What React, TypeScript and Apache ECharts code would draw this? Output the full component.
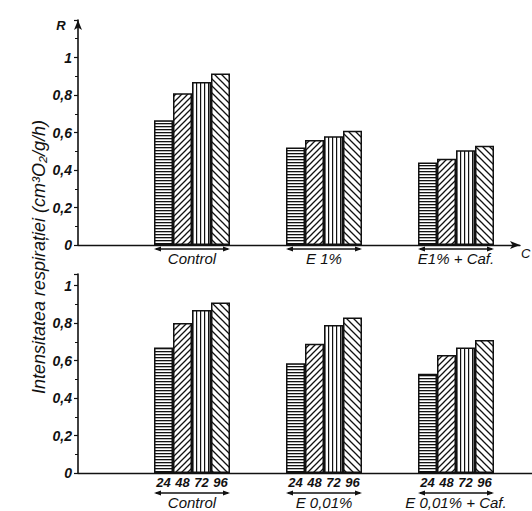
import React, { useEffect, useRef } from 'react';
import * as echarts from 'echarts';

const hours = ['24', '48', '72', '96'];
const topCategories = ['Control', 'E 1%', 'E1% + Caf.'];
const bottomCategories = ['Control', 'E 0,01%', 'E 0,01% + Caf.'];
// values per hour series, one entry per category
const top24 = [0.665, 0.52, 0.44];
const top48 = [0.81, 0.56, 0.46];
const top72 = [0.87, 0.58, 0.505];
const top96 = [0.915, 0.61, 0.53];
const bottom24 = [0.67, 0.585, 0.53];
const bottom48 = [0.8, 0.69, 0.63];
const bottom72 = [0.87, 0.79, 0.67];
const bottom96 = [0.91, 0.83, 0.71];
const yTickValues = [0, 0.2, 0.4, 0.6, 0.8, 1];
const yTitle = 'Intensitatea respirației (cm³O₂/g/h)';
const topAxisName = 'R';
const rightAxisName = 'C';

const topValues = [top24, top48, top72, top96];
const bottomValues = [bottom24, bottom48, bottom72, bottom96];

const INK = '#111';
const FONT = '"Liberation Sans", Arial, sans-serif';
const BAR_W = 19;

function makeTile(kind: string) {
  const c = document.createElement('canvas');
  let w = 6;
  let h = 6;
  if (kind === 'h') { w = 4; h = 3; }
  if (kind === 'v') { w = 4; h = 4; }
  if (kind === 'd2') { w = 7; h = 7; }
  c.width = w;
  c.height = h;
  const ctx = c.getContext('2d')!;
  ctx.fillStyle = '#fff';
  ctx.fillRect(0, 0, w, h);
  ctx.fillStyle = INK;
  ctx.strokeStyle = INK;
  ctx.lineWidth = 1.3;
  if (kind === 'h') {
    ctx.fillRect(0, 0, w, 1.3);
  } else if (kind === 'v') {
    ctx.fillRect(0, 0, 1.2, h);
  } else if (kind === 'd1') {
    ctx.beginPath();
    ctx.moveTo(-1, h + 1); ctx.lineTo(w + 1, -1);
    ctx.moveTo(-1, 1); ctx.lineTo(1, -1);
    ctx.moveTo(w - 1, h + 1); ctx.lineTo(w + 1, h - 1);
    ctx.stroke();
  } else {
    ctx.beginPath();
    ctx.moveTo(-1, -1); ctx.lineTo(w + 1, h + 1);
    ctx.moveTo(w - 1, -1); ctx.lineTo(w + 1, 1);
    ctx.moveTo(-1, h - 1); ctx.lineTo(1, h + 1);
    ctx.stroke();
  }
  return { image: c, repeat: 'repeat', imageWidth: w, imageHeight: h } as any;
}

const isTick = (v: number) =>
  yTickValues.some((t) => Math.abs(t - v) < 1e-6);
const fmtTick = (v: number) =>
  isTick(v) ? String(Math.round(v * 10) / 10).replace('.', ',') : '';

export default function App() {
  const ref = useRef<HTMLDivElement>(null);

  useEffect(() => {
    if (!ref.current) return;
    const chart = echarts.init(ref.current, null, { renderer: 'svg' });
    const patterns = [makeTile('h'), makeTile('d1'), makeTile('v'), makeTile('d2')];

    const frameY = (max: number, arrow: boolean) => ({
      type: 'value',
      min: 0,
      max,
      interval: 0.2,
      axisLine: {
        show: true,
        lineStyle: { color: INK, width: 1.6 },
        symbol: arrow ? ['none', 'arrow'] : ['none', 'none'],
        symbolSize: [6, 10],
      },
      axisTick: { show: true, length: 4, lineStyle: { color: INK, width: 1.2 } },
      minorTick: { show: true, splitNumber: 2, length: 3, lineStyle: { color: INK, width: 1 } },
      splitLine: { show: false },
      axisLabel: {
        margin: 6,
        color: INK,
        fontFamily: FONT,
        fontStyle: 'italic',
        fontWeight: 'bold',
        fontSize: 14,
        formatter: (v: number) => fmtTick(v),
      },
    });

    const hiddenY = (max: number) => ({ type: 'value', min: 0, max, show: false });

    const frameX = (arrow: boolean) => ({
      type: 'value',
      min: 0,
      max: 1,
      axisLine: {
        show: true,
        lineStyle: { color: INK, width: 1.4 },
        symbol: arrow ? ['none', 'arrow'] : ['none', 'none'],
        symbolSize: [6, 10],
      },
      axisTick: { show: false },
      axisLabel: { show: false },
      splitLine: { show: false },
    });

    const catX = (data: string[], margin: number) => ({
      type: 'category',
      data,
      axisLine: { show: false },
      axisTick: { show: false },
      axisLabel: {
        margin,
        color: INK,
        fontFamily: FONT,
        fontStyle: 'italic',
        fontSize: 15,
      },
    });

    const topMax = 1.2;
    const bottomMax = 199 / 187.5;

    const series: any[] = [];
    hours.forEach((h, i) => {
      series.push({
        type: 'bar',
        name: h,
        xAxisIndex: 1,
        yAxisIndex: 1,
        data: topValues[i],
        barWidth: BAR_W,
        barGap: '0%',
        itemStyle: { color: patterns[i], borderColor: INK, borderWidth: 1.5 },
      });
    });
    hours.forEach((h, i) => {
      series.push({
        type: 'bar',
        name: h,
        xAxisIndex: 3,
        yAxisIndex: 3,
        data: bottomValues[i],
        barWidth: BAR_W,
        barGap: '0%',
        itemStyle: { color: patterns[i], borderColor: INK, borderWidth: 1.5 },
        label: {
          show: true,
          position: 'bottom',
          distance: 3,
          formatter: h,
          color: INK,
          fontFamily: FONT,
          fontStyle: 'italic',
          fontWeight: 'bold',
          fontSize: 13,
        },
      });
    });

    chart.setOption({
      animation: false,
      backgroundColor: '#fff',
      grid: [
        { left: 78, top: 20, width: 442, height: 225 },
        { left: 126, top: 20, width: 396, height: 225 },
        { left: 78, top: 274, width: 454, height: 199 },
        { left: 126, top: 274, width: 396, height: 199 },
      ],
      xAxis: [
        { ...frameX(true), gridIndex: 0 },
        { ...catX(topCategories, 6), gridIndex: 1 },
        { ...frameX(false), gridIndex: 2 },
        { ...catX(bottomCategories, 22), gridIndex: 3 },
      ],
      yAxis: [
        { ...frameY(topMax, true), gridIndex: 0 },
        { ...hiddenY(topMax), gridIndex: 1 },
        { ...frameY(bottomMax, false), gridIndex: 2 },
        { ...hiddenY(bottomMax), gridIndex: 3 },
      ],
      series,
    });

    // group arrows under each bar group, positioned from the axes
    const graphics: any[] = [];
    const addArrows = (xi: number, yi: number, cats: string[], dy: number) => {
      const y0 = (chart.convertToPixel({ yAxisIndex: yi } as any, 0) as number) + dy;
      cats.forEach((c) => {
        const cx = chart.convertToPixel({ xAxisIndex: xi } as any, c) as number;
        const x1 = cx - 2 * BAR_W;
        const x2 = cx + 2 * BAR_W;
        graphics.push({
          type: 'line',
          shape: { x1: x1 + 2, y1: y0, x2: x2 - 2, y2: y0 },
          style: { stroke: INK, lineWidth: 1.3 },
        });
        graphics.push({
          type: 'polygon',
          shape: { points: [[x1, y0], [x1 + 7, y0 - 2.5], [x1 + 7, y0 + 2.5]] },
          style: { fill: INK },
        });
        graphics.push({
          type: 'polygon',
          shape: { points: [[x2, y0], [x2 - 7, y0 - 2.5], [x2 - 7, y0 + 2.5]] },
          style: { fill: INK },
        });
      });
    };
    addArrows(1, 1, topCategories, 4);
    addArrows(3, 3, bottomCategories, 20);

    graphics.push({
      type: 'text',
      x: 61,
      y: 25,
      style: {
        text: topAxisName,
        align: 'center',
        verticalAlign: 'middle',
        fill: INK,
        font: `italic bold 13px ${FONT}`,
      },
    });
    graphics.push({
      type: 'text',
      x: 521,
      y: 253,
      style: {
        text: rightAxisName,
        align: 'left',
        verticalAlign: 'middle',
        fill: INK,
        font: `italic 13px ${FONT}`,
      },
    });
    graphics.push({
      type: 'text',
      x: 39,
      y: 257,
      rotation: Math.PI / 2,
      style: {
        text: yTitle,
        align: 'center',
        verticalAlign: 'middle',
        fill: INK,
        font: `italic 18px ${FONT}`,
      },
    });

    chart.setOption({ graphic: graphics });

    return () => chart.dispose();
  }, []);

  return (
    <div
      ref={ref}
      style={{ position: 'fixed', left: 0, top: 0, width: 532, height: 511, background: '#fff' }}
    />
  );
}
